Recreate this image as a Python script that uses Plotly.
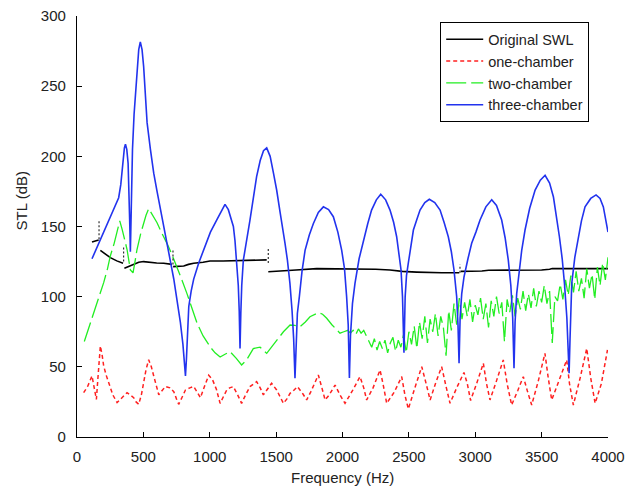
import plotly.graph_objects as go

# ---------------- data ----------------
# three-chamber (blue)
blue_f = [113,150,188,220,251,285,314,330,345,357,365,375,385,393,398,402,406,410,418,430,
          452,465,477,490,502,515,528,553,578,603,628,653,678,704,729,754,779,798,810,817,
          824,832,842,860,879,917,955,1005,1055,1090,1115,1140,1165,1178,1190,1203,1215,1222,1228,1234,
          1241,1253,1278,1303,1328,1353,1380,1405,1429,1455,1480,1504,1530,1555,1567,1585,1604,1620,1632,1642,
          1650,1660,1675,1695,1718,1750,1780,1818,1856,1895,1931,1965,1994,2015,2031,2043,2052,2060,2075,2094,
          2125,2157,2190,2219,2255,2288,2325,2358,2385,2408,2425,2441,2452,2463,2472,2482,2496,2515,2534,2560,
          2584,2620,2654,2695,2735,2765,2797,2820,2840,2860,2870,2878,2886,2898,2915,2945,2973,3005,3036,3080,
          3124,3160,3199,3225,3249,3268,3282,3292,3300,3312,3325,3350,3375,3410,3451,3490,3526,3560,3589,3612,
          3634,3655,3672,3690,3700,3707,3714,3727,3750,3777,3800,3827,3870,3910,3940,3965,3985,4000]
blue_v = [127,135,143,150,157,164,170.5,180,195,206,208.6,205,195,175,150,132,150,175,205,230,
          264,276,281.5,276,264,245,224,205,188,175,162,150,138,125,112.6,98,81.5,66,54,43.5,
          55,75,93,104,112.5,124,134,146,155,162,165.8,162,154,150,140,126,108,90,63,88,
          108,126,142,154.6,170,185.5,197,204,206,200,188,176,160,146,138,126,109.5,90,70,41.8,
          68,88,100,118,133,144,152,160,164,162,157,146,133,120,100,80,42,72,95,109.5,
          127,140,152,161.7,169,173,169,161.7,153,142.7,132,119,100,60,100,115,124,137,147.5,155,
          161.7,167,169.4,167,161.7,153,142.7,132,119,100,80,52.5,85,102,114,127,138,146,154.6,164,
          169,165,154.6,142,126,108,85,49,82,102,114,133,147.5,163,176,183,186.5,181,171,158,
          142.7,127,109.5,85,65,45.4,70,109.5,128,142.7,154,164,170,172.5,170,164,155,146]

# Original SWL (black): piecewise segments
swl_f = [113,140,163,None,176,210,251,300,347,None,357,390,427,465,502,553,600,653,716,None,
         724,760,804,840,879,950,1002,1100,1190,1203,1300,1429,None,
         1441,1500,1555,1650,1806,1900,2000,2157,2250,2358,2450,2559,2650,2747,2880,None,
         2890,2960,3050,3100,3300,3500,3560,3580,4000]
swl_v = [139,140,140.4,None,133,130.5,127.8,125.5,123.8,None,120.2,121.5,123,124.5,125,124.3,124,123.8,123,None,
         121.4,121.5,121.8,123,123.8,124.5,125.4,125.4,125.5,126,126,126.2,None,
         117.8,118,118.5,119,120,120,120,120,119.5,119,118,117.5,117.2,117,117,None,
         118,118,118.3,118.8,118.8,119,119.5,120,120]
# dotted vertical joins of the SWL curve
join_f = [166,166,None,351,351,None,723,723,None,1441,1441,None,2885,2885]
join_v = [141,154,None,125,135.6,None,123,133,None,124,134.5,None,117,123]

# one-chamber (red)
red_f = [50,80,113,130,146,160,176,190,201,220,239,270,302,340,377,400,427,445,465,485,
         502,520,540,560,578,600,616,640,666,700,729,750,766,790,817,850,879,905,930,960,
         992,1020,1050,1078,1100,1128,1150,1178,1210,1240,1270,1303,1353,1380,1404,1435,1466,1504,1530,1555,
         1580,1605,1630,1660,1700,1730,1760,1790,1818,1845,1869,1900,1944,1981,2019,2075,2132,2160,2182,2230,
         2283,2305,2333,2390,2446,2470,2496,2545,2597,2630,2660,2700,2747,2780,2810,2860,2915,2940,2965,3010,
         3061,3085,3111,3160,3211,3240,3274,3320,3362,3395,3425,3475,3525,3550,3576,3630,3689,3710,3739,3790,
         3840,3870,3903,3950,3996]
red_v = [31.6,36,43.5,35,26.8,45,64.8,58,50.6,44,38.7,30,24.5,28,31.6,30,28,25,23.3,30,
         38.7,48,55,50,43.5,35,30,33,36,35,32.3,27,23.3,28,33.5,35,36,32,28,36,
         44,41,34,24,28,33.5,35,35.9,30,24,30,35.9,39.4,35,30,34,38.3,33.5,28,24,
         27,31.1,33,35.9,31,26.4,32,38,44.2,35,26.4,30,37,30,24,33,43,35,26.4,35,
         47.7,38,24,32,43,30,20,35,50.1,38,26.4,38,50.1,36,24,35,46,38,26,38,
         52.5,38,26.4,40,54.9,38,22.8,33,43,32,22.8,40,59.6,42,26.4,40,54.9,38,22.8,42,
         63.1,42,24,38,62]

# two-chamber (green)
green_f = [55,90,126,165,201,230,251,280,302,322,340,352,377,402,422,437,452,480,502,520,
           540,570,603,640,678,715,754,790,829,865,905,950,1005,1040,1078,1115,1153,1200,1240,1278,
           1328,1379,1429,1465,1504,1555,1605,1640,1680,1720,1755,1818,1850,1881,1920,1956,1981,2010,
           2040,2060,2080,2100,2120,2140,2160,2180,2200,2220,2240,2260,2280,2300,2320,2340,2360,2380,2400,2420,
           2440,2460,2480,2500,2520,2540,2560,2580,2600,2620,2640,2660,2680,2700,2720,2740,2760,2780,2800,2820,
           2840,2860,2880,2900,2920,2940,2960,2980,3000,3020,3040,3060,3080,3100,3120,3140,3160,3180,3200,3220,
           3240,3260,3280,3300,3320,3340,3360,3380,3400,3420,3440,3460,3480,3500,3520,3540,3560,3580,3600,3620,
           3640,3660,3680,3700,3720,3740,3760,3780,3800,3820,3840,3860,3880,3900,3920,3940,3960,3980,4000]
green_v = [68,78,88.6,100,110,120,129,138,145.6,154,148,143,133.6,119,117,125,133.6,145,152.7,158,
           162.7,158,152.7,145,138,130,121,112,102,92,81,72,64,60,57,59,60.8,56,51.3,54.9,
           63,64,59.6,64,69,75,79.8,79.5,78.6,82,85.7,88.6,87.5,84.6,80,76,74,75,
           76,74,76,73,77,74,76,72,68,64,70,62,68,63,69,60,67,71,61,69,
           64,73,60,75,66,79,63,82,70,86,67,84,75,88,72,86,78,58,90,76,
           95,80,99,84,96,86,98,82,94,87,99,84,95,78,97,86,100,88,96,68,
           98,89,101,86,99,91,104,90,102,92,106,93,104,96,108,95,104,67,100,97,
           109,98,112,101,115,103,118,104,113,99,120,106,116,98,121,108,124,112,128]

x_ticks = [0, 500, 1000, 1500, 2000, 2500, 3000, 3500, 4000]
y_ticks = [0, 50, 100, 150, 200, 250, 300]

FONT = "Liberation Sans, Arial, sans-serif"
TXT = "#222222"

fig = go.Figure()
fig.add_trace(go.Scatter(x=swl_f, y=swl_v, mode="lines", name="Original SWL",
                         line=dict(color="black", width=1.6), connectgaps=False))
fig.add_trace(go.Scatter(x=red_f, y=red_v, mode="lines", name="one-chamber",
                         line=dict(color="#ff2020", width=1.5, dash="4px,3px")))
fig.add_trace(go.Scatter(x=green_f, y=green_v, mode="lines", name="two-chamber",
                         line=dict(color="#22ee22", width=1.3, dash="20px,5px")))
fig.add_trace(go.Scatter(x=blue_f, y=blue_v, mode="lines", name="three-chamber",
                         line=dict(color="#2233ee", width=1.6)))
fig.add_trace(go.Scatter(x=join_f, y=join_v, mode="lines", showlegend=False,
                         line=dict(color="#333333", width=1.2, dash="2px,2px"), connectgaps=False))

fig.update_layout(
    width=626, height=492,
    margin=dict(l=77, r=18, t=16, b=55, autoexpand=False),
    paper_bgcolor="white", plot_bgcolor="white",
    font=dict(family=FONT, size=14, color=TXT),
    legend=dict(x=0.684, y=0.985, xanchor="left", yanchor="top",
                bordercolor="black", borderwidth=1, bgcolor="white",
                font=dict(family=FONT, size=14.5, color=TXT),
                itemwidth=37, tracegroupgap=0),
    annotations=[
        dict(text="Frequency (Hz)", xref="paper", yref="paper", x=0.5, y=-0.097,
             xanchor="center", yanchor="middle", showarrow=False,
             font=dict(family=FONT, size=15, color=TXT)),
        dict(text="STL (dB)", xref="paper", yref="paper", x=-0.105, y=0.56,
             xanchor="center", yanchor="middle", showarrow=False, textangle=-90,
             font=dict(family=FONT, size=15, color=TXT)),
    ],
)
fig.update_xaxes(range=[0, 4000], tickvals=x_ticks, showgrid=False, zeroline=False,
                 showline=True, linecolor="black", linewidth=1.2, ticks="inside",
                 ticklen=5, tickcolor="black", ticklabelstandoff=6, automargin=False,
                 tickfont=dict(family=FONT, size=15, color=TXT))
fig.update_yaxes(range=[0, 300], tickvals=y_ticks, showgrid=False, zeroline=False,
                 showline=True, linecolor="black", linewidth=1.2, ticks="inside",
                 ticklen=5, tickcolor="black", ticklabelstandoff=7, automargin=False,
                 tickfont=dict(family=FONT, size=15, color=TXT))

fig.write_html("out.html", config={"displayModeBar": False},
               post_script="document.body.style.margin='0';document.body.style.overflow='hidden';")
